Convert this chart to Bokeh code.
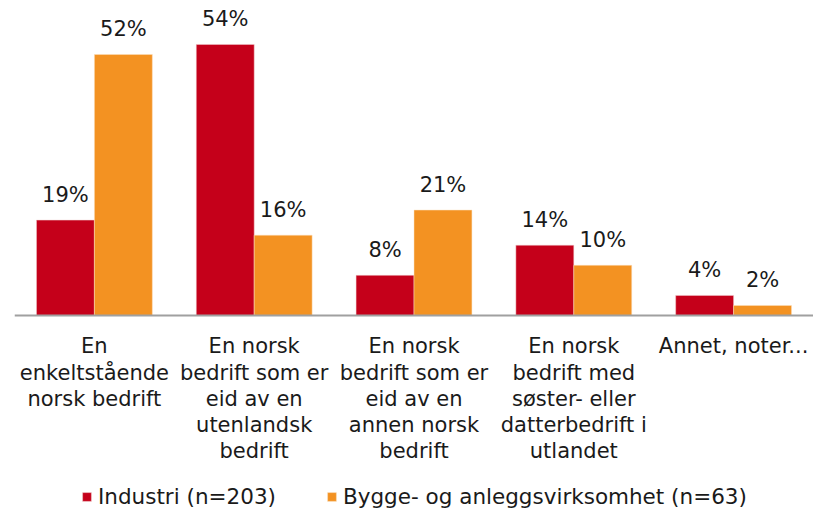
from bokeh.plotting import figure
from bokeh.models import ColumnDataSource, FactorRange, Legend, LegendItem, Span
from bokeh.transform import dodge
from bokeh.core.properties import value
from bokeh.embed import file_html
from bokeh.resources import INLINE

categories = [
    "En\nenkeltstående\nnorsk bedrift",
    "En norsk\nbedrift som er\neid av en\nutenlandsk\nbedrift",
    "En norsk\nbedrift som er\neid av en\nannen norsk\nbedrift",
    "En norsk\nbedrift med\nsøster- eller\ndatterbedrift i\nutlandet",
    "Annet, noter...",
]
industri = [19, 54, 8, 14, 4]
bygge = [52, 16, 21, 10, 2]
series_names = ["Industri (n=203)", "Bygge- og anleggsvirksomhet (n=63)"]

RED = "#C5001A"
ORANGE = "#F39222"
FONT = "DejaVu Sans"
TXT = "#1a1a1a"

src = ColumnDataSource(dict(
    cat=categories,
    base=[0] * len(categories),
    ind=industri,
    byg=bygge,
    ind_lbl=[f"{v}%" for v in industri],
    byg_lbl=[f"{v}%" for v in bygge],
))

# frame spans the whole picture; value 0 sits 315 px from the top
p = figure(
    x_range=FactorRange(*categories, range_padding=0),
    y_range=(-38.65, 62.75),
    frame_width=799, frame_height=509,
    output_backend="svg", toolbar_location=None,
    x_axis_location=None, y_axis_location=None,
    min_border_left=14, min_border_right=0, min_border_top=0, min_border_bottom=0,
)
p.outline_line_color = None
p.xgrid.visible = False
p.ygrid.visible = False

bw = 0.3625
off = bw / 2
r1 = p.vbar(x=dodge("cat", -off, range=p.x_range), top="ind", width=bw, source=src,
            fill_color=RED, line_color="#f0d0d0", line_width=0.5)
r2 = p.vbar(x=dodge("cat", off, range=p.x_range), top="byg", width=bw, source=src,
            fill_color=ORANGE, line_color="#fbe0c0", line_width=0.5)

# baseline (category axis line)
p.add_layout(Span(location=0, dimension="width", line_color="#a0a0a0", line_width=2))

for col, lbl, d in (("ind", "ind_lbl", -off), ("byg", "byg_lbl", off)):
    p.text(x=dodge("cat", d, range=p.x_range), y=col, text=lbl, source=src,
           text_align="center", text_baseline="alphabetic", y_offset=-25,
           text_font=value(FONT), text_font_size="21px", text_color=TXT)

# category labels under the baseline
p.text(x="cat", y="base", text="cat", source=src,
       text_align="center", text_baseline="top", y_offset=19,
       text_line_height=1.09,
       text_font=value(FONT), text_font_size="21px", text_color=TXT)

legend = Legend(
    items=[LegendItem(label=series_names[0], renderers=[r1]),
           LegendItem(label=series_names[1], renderers=[r2])],
    orientation="horizontal", location=(67, 0),
    glyph_width=11, glyph_height=11, label_standoff=6, spacing=50,
    padding=0, margin=0, border_line_color=None, background_fill_alpha=0,
    label_text_font=FONT, label_text_font_size="21.5px", label_text_color=TXT,
)
p.add_layout(legend)

open("out.html", "w").write(file_html(p, INLINE))
